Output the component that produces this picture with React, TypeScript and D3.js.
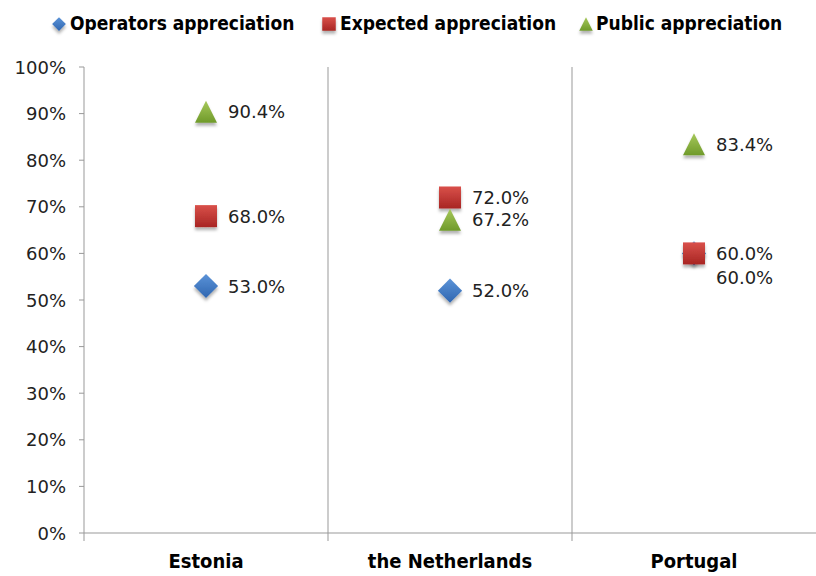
import React from "react";
import * as d3 from "d3";

const categories = ["Estonia", "the Netherlands", "Portugal"];
const seriesNames = ["Operators appreciation", "Expected appreciation", "Public appreciation"];
const operators = [53.0, 52.0, 60.0];
const expected = [68.0, 72.0, 60.0];
const publicApp = [90.4, 67.2, 83.4];
const yTicks = [0, 10, 20, 30, 40, 50, 60, 70, 80, 90, 100];

const W = 816, H = 576;
const left = 84, right = 816, top = 67, bottom = 533;

const colors = [
  { light: "#5b93d8", dark: "#2f66b0" },
  { light: "#d9504a", dark: "#a82523" },
  { light: "#a6c85a", dark: "#6f9a2a" },
];

function Marker({ kind, x, y, s }: { kind: number; x: number; y: number; s: number }) {
  const fill = `url(#grad${kind})`;
  if (kind === 0) {
    const r = s * 0.55;
    return <path d={`M${x},${y - r}L${x + r},${y}L${x},${y + r}L${x - r},${y}Z`} fill={fill} filter="url(#sh)" />;
  }
  if (kind === 1) {
    const h = s * 0.5;
    return <rect x={x - h} y={y - h} width={2 * h} height={2 * h} fill={fill} filter="url(#sh)" />;
  }
  const h = s * 0.5;
  return <path d={`M${x},${y - h}L${x + h},${y + h}L${x - h},${y + h}Z`} fill={fill} filter="url(#sh)" />;
}

export default function App() {
  const x = d3.scaleBand<string>().domain(categories).range([left, right]);
  const y = d3.scaleLinear().domain([0, 100]).range([bottom, top]);
  const series = [operators, expected, publicApp];

  const labels: { cx: number; cy: number; text: string }[] = [];
  categories.forEach((c, i) => {
    const cx = x(c)! + x.bandwidth() / 2;
    const placed: number[] = [];
    [1, 2, 0].forEach((si) => {
      let ly = y(series[si][i]);
      while (placed.some((p) => Math.abs(p - ly) < 20)) ly += 24;
      placed.push(ly);
      labels.push({ cx, cy: ly, text: series[si][i].toFixed(1) + "%" });
    });
  });

  const legendMarkerX = [59, 329, 586];
  const legendTextX = [70, 340, 596];
  const font = "'DejaVu Sans', Verdana, sans-serif";
  const boldFont = "'DejaVu Sans Condensed', 'DejaVu Sans', sans-serif";

  return (
    <svg width={W} height={H} style={{ position: "absolute", left: 0, top: 0, background: "#fff" }}>
      <defs>
        {colors.map((c, i) => (
          <linearGradient key={i} id={`grad${i}`} x1="0" y1="0" x2="0" y2="1">
            <stop offset="0" stopColor={c.light} />
            <stop offset="1" stopColor={c.dark} />
          </linearGradient>
        ))}
        <filter id="sh" x="-50%" y="-50%" width="200%" height="200%">
          <feDropShadow dx="0" dy="3" stdDeviation="1.5" floodColor="#000" floodOpacity="0.3" />
        </filter>
      </defs>

      {seriesNames.map((n, i) => (
        <g key={n}>
          <Marker kind={i} x={legendMarkerX[i]} y={24} s={i === 0 ? 12.5 : 13.5} />
          <text x={legendTextX[i]} y={23} dominantBaseline="central" fontFamily={boldFont} fontWeight="bold" fontSize={19} fill="#000">
            {n}
          </text>
        </g>
      ))}

      <line x1={left} x2={left} y1={top} y2={bottom} stroke="#999" />
      <line x1={left} x2={right} y1={bottom} y2={bottom} stroke="#999" />
      {yTicks.map((t) => (
        <g key={t}>
          <line x1={left - 5} x2={left} y1={y(t)} y2={y(t)} stroke="#999" />
          <text x={66} y={y(t)} textAnchor="end" dominantBaseline="central" fontFamily={font} fontSize={18} fill="#222">
            {t}%
          </text>
        </g>
      ))}
      {categories.map((c, i) =>
        i > 0 ? (
          <line key={c} x1={x(c)!} x2={x(c)!} y1={top} y2={bottom + 8} stroke="#999" />
        ) : (
          <line key={c} x1={x(c)!} x2={x(c)!} y1={bottom} y2={bottom + 8} stroke="#999" />
        )
      )}
      {categories.map((c) => (
        <text key={c} x={x(c)! + x.bandwidth() / 2} y={561} textAnchor="middle" dominantBaseline="central" fontFamily={boldFont} fontWeight="bold" fontSize={20} fill="#000">
          {c}
        </text>
      ))}

      {series.map((vals, si) =>
        categories.map((c, i) => (
          <Marker key={`${si}-${c}`} kind={si} x={x(c)! + x.bandwidth() / 2} y={y(vals[i])} s={22} />
        ))
      )}

      {labels.map((l, k) => (
        <text key={k} x={l.cx + 22} y={l.cy} dominantBaseline="central" fontFamily={font} fontSize={18} fill="#222">
          {l.text}
        </text>
      ))}
    </svg>
  );
}
